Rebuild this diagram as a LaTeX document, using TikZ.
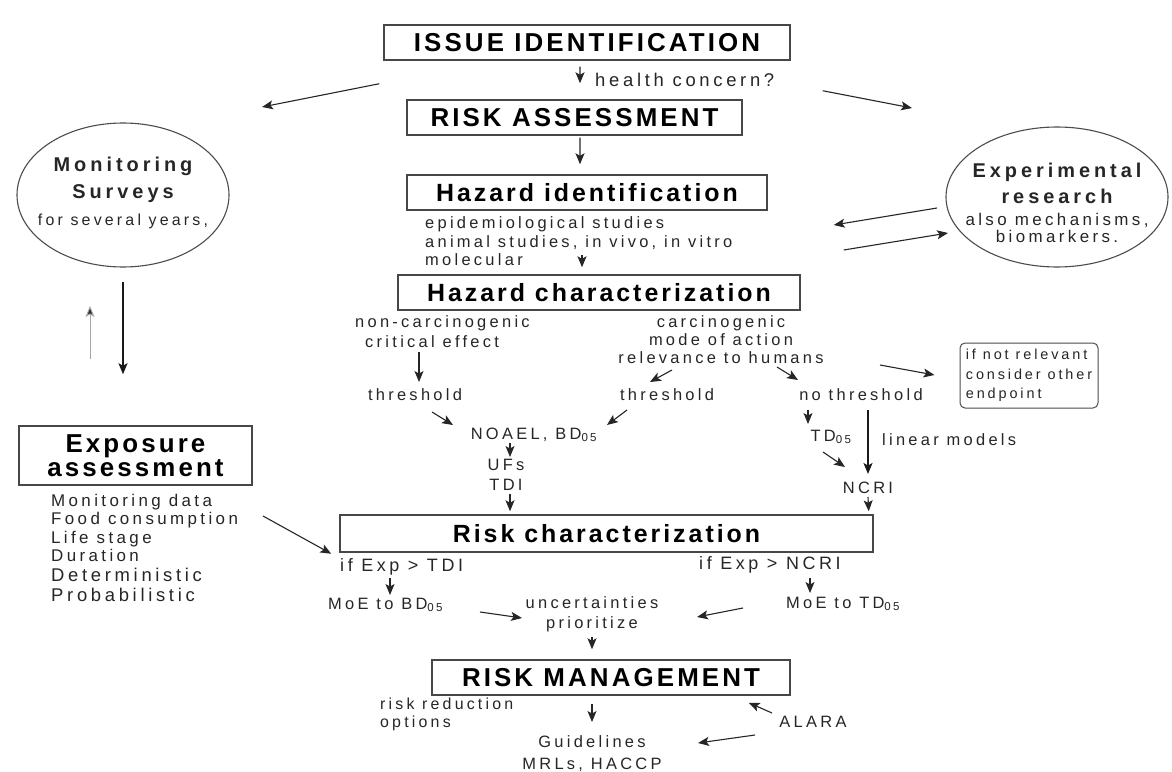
\documentclass[tikz,border=0pt]{standalone}
\usepackage{fontspec}
\newfontfamily\bodyfont{Liberation Sans}[LetterSpace=20]
\newfontfamily\headfont{Liberation Sans}[LetterSpace=12]
\usepackage{tikz}
\usetikzlibrary{arrows.meta,positioning,calc}
\newcommand{\setfs}[2]{\fontsize{#1}{#2}\selectfont}
\tikzset{
  >={Stealth[length=11pt,width=9pt,inset=2.5pt]},
  stage/.style   ={draw=black!72,line width=1.5pt,inner sep=0pt,minimum height=35bp,
                   font=\headfont\bfseries\setfs{26}{26},text=black},
  substage/.style={stage,font=\headfont\bfseries\setfs{25}{25}},
  lbl/.style     ={inner sep=0pt,font=\bodyfont\setfs{16.5}{18.5},text=black!85},
  oval/.style    ={draw=black!70,line width=1.1pt},
  arr/.style     ={->,draw=black!85,line width=1.1pt},
  bigarr/.style  ={->,draw=black!90,line width=1.8pt},
  faint/.style   ={->,draw=black!35,line width=1pt},
}

\begin{document}
\begin{tikzpicture}[x=1bp,y=-1bp]
\useasboundingbox[fill=white] (0,0) rectangle (1172,772);
% main column
\node[stage,minimum width=406bp] (iss) at (587,42.5) {ISSUE IDENTIFICATION};
\node[lbl,anchor=west,font=\bodyfont\setfs{18.5}{19}] (hc) at (595,80) {health concern?};
\node[stage,minimum width=335bp] (ra) at (574.5,117.5) {RISK ASSESSMENT};
\node[substage,minimum width=360bp] (hi) at (587,192.5) {Hazard identification};
\node[lbl,anchor=west,align=left] (hitxt) at (425,241.5)
 {epidemiological studies\\animal studies, in vivo, in vitro\\molecular};
\node[substage,minimum width=402bp] (hch) at (599,292.5) {Hazard characterization};
% side loops
\node[lbl,align=center,font=\bodyfont\bfseries\setfs{20}{27}] (mon) at (123,193)
 {Monitoring\\Surveys\\{\mdseries\setfs{16}{17}for several years,}};
\draw[oval] ([shift={(0,2)}]mon.center) ellipse [x radius=106bp,y radius=72bp];
\node[lbl,align=center,font=\bodyfont\bfseries\setfs{20}{26}] (exp) at (1057,203)
 {Experimental\\research\\[-4bp]{\mdseries\setfs{17}{17}also mechanisms,}\\[-9bp]{\mdseries\setfs{17}{17}biomarkers.}};
\draw[oval] ([shift={(0,-6)}]exp.center) ellipse [x radius=111bp,y radius=70bp];
% hazard branches
\node[lbl,anchor=west,align=left,font=\bodyfont\setfs{16.5}{20}] (nc) at (355,332)
 {non-carcinogenic\\\hspace*{10bp}critical effect};
\node[lbl,align=center,font=\bodyfont\setfs{16.5}{18}] (carc) at (721,340)
 {carcinogenic\\mode of action\\relevance to humans};
\node[lbl] (thl) at (415,395) {threshold};
\node[lbl] (thr) at (667,395) {threshold};
\node[lbl] (nth) at (861,395) {no threshold};
\node[draw=black!70,line width=1pt,rounded corners=5pt,inner sep=1pt,minimum width=138bp,
      minimum height=65bp,align=left,font=\bodyfont\setfs{14.5}{19.5},text=black!85] (inr)
 at (1029,375.5) {if not relevant\\consider other\\endpoint};
\node[lbl] (noael) at (534,435) {NOAEL, BD\textsubscript{05}};
\node[lbl,align=center,font=\bodyfont\setfs{16.5}{20}] (ufs) at (506,475) {UFs\\TDI};
\node[lbl] (td) at (831,437) {TD\textsubscript{05}};
\node[lbl,anchor=west] (lin) at (882,440) {linear models};
\node[lbl] (ncri) at (868,488) {NCRI};
% exposure
\node[stage,minimum width=233bp,minimum height=59bp,align=center,
      font=\headfont\bfseries\setfs{26}{24}] (ea) at (135.5,455.5) {Exposure\\assessment};
\node[lbl,anchor=west,align=left,font=\bodyfont\setfs{17}{18.5}] (elist) at (51,548)
 {Monitoring data\\Food consumption\\Life stage\\Duration\\[1.5bp]{\setfs{18.5}{18.5}Deterministic}\\[1.5bp]{\setfs{18.5}{18.5}Probabilistic}};
% risk characterization and management
\node[substage,minimum width=533bp,minimum height=37bp] (rc) at (606.5,533.5) {Risk characterization};
\node[lbl,anchor=west,font=\bodyfont\setfs{18}{19}] (ift) at (340,567) {if Exp > TDI};
\node[lbl,anchor=west,font=\bodyfont\setfs{18}{19}] (ifn) at (699,565) {if Exp > NCRI};
\node[lbl,anchor=west] (moeb) at (328,605) {MoE to BD\textsubscript{05}};
\node[lbl,anchor=west] (moet) at (786,604) {MoE to TD\textsubscript{05}};
\node[lbl,align=center,font=\bodyfont\setfs{16.5}{20}] (unc) at (592,614) {uncertainties\\prioritize};
\node[stage,minimum width=358bp] (rm) at (611,677.5) {RISK MANAGEMENT};
\node[lbl,anchor=west,align=left,font=\bodyfont\setfs{16}{18}] (rro) at (380,714) {risk reduction\\options};
\node[lbl,align=center,font=\bodyfont\setfs{16.5}{22}] (gl) at (592,754) {Guidelines\\MRLs, HACCP};
\node[lbl] (alara) at (813,722) {ALARA};
% connectors
\draw[arr] ([shift={(-7,6)}]iss.south) -- ([shift={(5.5,-16)}]ra.north);
\draw[arr] ([shift={(-4,23)}]iss.south west) -- ([shift={(139,-86)}]mon.center);
\draw[arr] ([shift={(32,30)}]iss.south east) -- ([shift={(-145,-95)}]exp.center);
\draw[arr] ([shift={(5.5,2)}]ra.south) -- ([shift={(-7,-10)}]hi.north);
\draw[arr] ([shift={(-120,5)}]exp.center) -- ([shift={(66,32.5)}]hi.east);
\draw[arr] ([shift={(76,57.5)}]hi.east) -- ([shift={(-109,30)}]exp.center);
\draw[arr] ([shift={(-17,-19)}]hch.north) -- ([shift={(-17,-7)}]hch.north);
\draw[faint,-{Stealth[length=11pt,width=9pt,inset=2.5pt,fill=black!85]}] ([shift={(-45.5,-66)}]ea.north) -- ([shift={(-33,113)}]mon.center);
\draw[bigarr] ([shift={(0,89)}]mon.center) -- ([shift={(-12.5,-51)}]ea.north);
\draw[arr] ([shift={(4,-43)}]thl.center) -- ([shift={(4,-13)}]thl.center);
\draw[arr] ([shift={(17,17)}]thl.center) -- ([shift={(-81,-10)}]noael.center);
\draw[arr] ([shift={(-49,30)}]carc.center) -- ([shift={(-17,-13)}]thr.center);
\draw[arr] ([shift={(-40,15)}]thr.center) -- ([shift={(73,-10)}]noael.center);
\draw[arr] ([shift={(56,27)}]carc.center) -- ([shift={(-63,-15)}]nth.center);
\draw[arr] ([shift={(159,25)}]carc.center) -- ([shift={(-25,-0.5)}]inr.west);
\draw[arr] ([shift={(-24,8)}]noael.center) -- ([shift={(4,-18)}]ufs.center);
\draw[arr] ([shift={(4,19)}]ufs.center) -- ([shift={(-96.5,-3)}]rc.north);
\draw[arr] ([shift={(-53,15)}]nth.center) -- ([shift={(-23,-13)}]td.center);
\draw[arr] ([shift={(-8,15)}]td.center) -- ([shift={(-23,-21)}]ncri.center);
\draw[bigarr] ([shift={(7,15)}]nth.center) -- ([shift={(0,-14)}]ncri.center);
\draw[arr] ([shift={(0,9)}]ncri.center) -- ([shift={(-5,-3)}]rc.north east);
\draw[arr] ([shift={(212,-32)}]elist.west) -- ([shift={(-8,1)}]rc.south west);
\draw[arr] ([shift={(50,11)}]ift.west) -- ([shift={(62,-10)}]moeb.west);
\draw[arr] ([shift={(152,7)}]moeb.west) -- ([shift={(-70,4)}]unc.center);
\draw[arr] ([shift={(-43,4)}]moet.west) -- ([shift={(105,3)}]unc.center);
\draw[arr] ([shift={(111,13)}]ifn.west) -- ([shift={(24,-11)}]moet.west);
\draw[arr] ([shift={(0,23)}]unc.center) -- ([shift={(-19,-10)}]rm.north);
\draw[arr] ([shift={(-19,8)}]rm.south) -- ([shift={(0,-32)}]gl.center);
\draw[arr] ([shift={(-41,-9)}]alara.center) -- ([shift={(-42,7)}]rm.south east);
\draw[arr] ([shift={(-58,13)}]alara.center) -- ([shift={(106,-11)}]gl.center);
\end{tikzpicture}
\end{document}
